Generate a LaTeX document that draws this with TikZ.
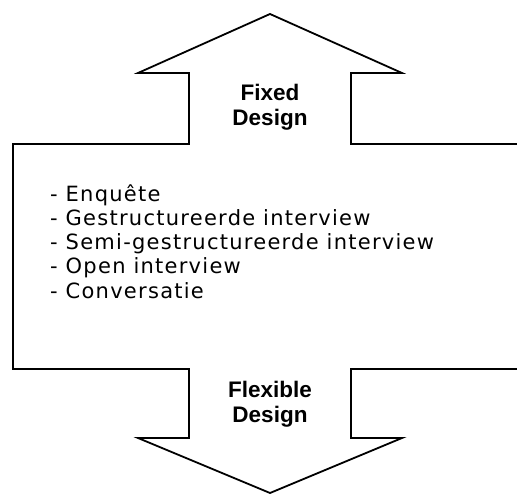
\documentclass[tikz,border=0pt]{standalone}
\usepackage{fontspec}
\setmainfont{Liberation Sans}
\newfontfamily\listfont[LetterSpace=6]{DejaVu Sans}
\usepackage{tikz}
\tikzstyle{arrow_body} = [draw=black, line width=1.8pt, line join=miter, fill=white]
\tikzstyle{design_lbl} = [font=\fontsize{22.5}{25}\selectfont\bfseries, align=center, inner sep=0pt]
\tikzstyle{list_item} = [font=\fontsize{21}{24}\listfont, anchor=base west, inner sep=0pt]

\begin{document}
\begin{tikzpicture}[x=1pt,y=-1pt]
\useasboundingbox (0,0) rectangle (517,495);
% double arrow with wide middle part
\draw [arrow_body] (270,14) -- (402,73) -- (351,73) -- (351,144) -- (527,144)
    -- (527,369) -- (351,369) -- (351,438) -- (402,438) -- (270,493)
    -- (138,438) -- (189,438) -- (189,369) -- (13,369) -- (13,144)
    -- (189,144) -- (189,73) -- (138,73) -- cycle;
\node [design_lbl, name=fixed] at (270,107) {Fixed\\Design};
\node [design_lbl, name=flexible] at (270,404) {Flexible\\Design};
\node [list_item, name=item 1] at (50,201) {- Enquête};
\node [list_item, name=item 2] at (50,225) {- Gestructureerde interview};
\node [list_item, name=item 3] at (50,249) {- Semi-gestructureerde interview};
\node [list_item, name=item 4] at (50,273) {- Open interview};
\node [list_item, name=item 5] at (50,298) {- Conversatie};
\end{tikzpicture}
\end{document}
